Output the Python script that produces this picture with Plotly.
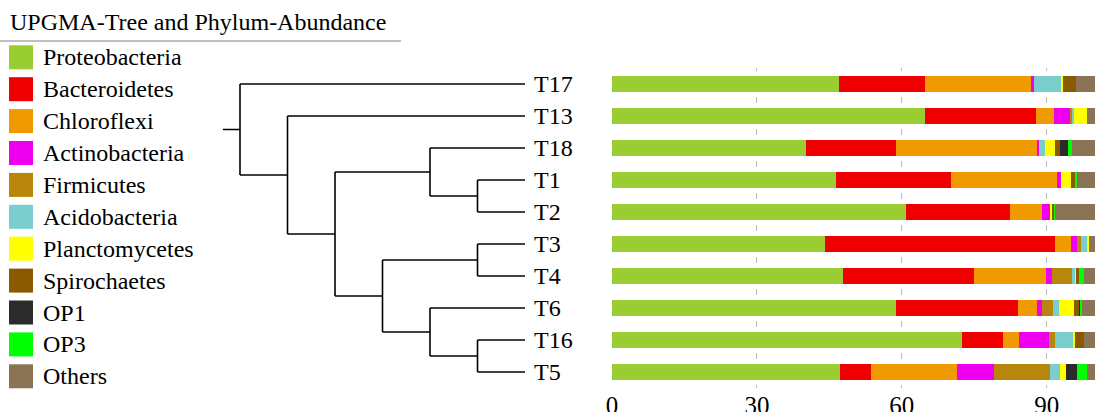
import plotly.graph_objects as go

# ---------------- data ----------------
samples = ["T17", "T13", "T18", "T1", "T2", "T3", "T4", "T6", "T16", "T5"]
phyla = ["Proteobacteria", "Bacteroidetes", "Chloroflexi", "Actinobacteria", "Firmicutes",
         "Acidobacteria", "Planctomycetes", "Spirochaetes", "OP1", "OP3", "Others"]
colors = ["#9ACD32", "#EE0000", "#EE9A00", "#EE00EE", "#B8860B",
          "#79CDCD", "#FFFF00", "#8B5A00", "#2B2B2B", "#00FF00", "#8B7355"]

# relative abundance (%) per phylum, in sample order above
Proteobacteria = [47.0, 64.8, 40.2, 46.4, 60.9, 44.0, 47.8, 58.9, 72.5, 47.2]
Bacteroidetes  = [17.9, 23.0, 18.7, 23.8, 21.5, 47.8, 27.1, 25.2, 8.4, 6.5]
Chloroflexi    = [21.8, 3.8, 29.2, 22.0, 6.7, 3.2, 15.0, 3.8, 3.4, 17.7]
Actinobacteria = [0.7, 3.4, 0.4, 0.8, 1.6, 1.3, 1.2, 1.2, 6.2, 7.7]
Firmicutes     = [0.0, 0.4, 0.0, 0.0, 0.0, 0.8, 4.1, 2.3, 1.3, 11.6]
Acidobacteria  = [5.7, 0.3, 1.1, 0.0, 0.0, 1.4, 0.7, 1.2, 3.7, 2.1]
Planctomycetes = [0.2, 2.6, 2.1, 2.0, 0.5, 0.3, 0.2, 3.0, 0.3, 1.1]
Spirochaetes   = [2.8, 0.0, 1.1, 0.9, 0.4, 0.0, 0.5, 1.1, 1.9, 0.0]
OP1            = [0.0, 0.0, 1.7, 0.0, 0.0, 0.0, 0.0, 0.4, 0.0, 2.4]
OP3            = [0.0, 0.0, 0.7, 0.3, 0.2, 0.0, 1.1, 0.3, 0.0, 2.1]
Others         = [3.9, 1.7, 4.8, 3.8, 8.2, 1.2, 2.3, 2.6, 2.3, 1.6]
abundance = [Proteobacteria, Bacteroidetes, Chloroflexi, Actinobacteria, Firmicutes,
             Acidobacteria, Planctomycetes, Spirochaetes, OP1, OP3, Others]

# UPGMA tree topology (nested pairs)
tree = ("T17", ("T13", (("T18", ("T1", "T2")), (("T3", "T4"), ("T6", ("T16", "T5"))))))

x_ticks = [0, 30, 60, 90]
title_text = "UPGMA-Tree and Phylum-Abundance"

FONT = "Liberation Serif, Times New Roman, Times, serif"
W, H = 1095, 412

fig = go.Figure()

# ---------------- bars ----------------
rows = list(range(len(samples)))
for name, col, vals in zip(phyla, colors, abundance):
    fig.add_trace(go.Bar(
        y=rows, x=vals, orientation="h", name=name,
        marker=dict(color=col, line=dict(width=0)),
        width=0.5, xaxis="x2", yaxis="y", showlegend=False,
        hovertemplate=name + ": %{x}<extra></extra>",
    ))

# ---------------- tree ----------------
row_of = {s: i for i, s in enumerate(samples)}
tx, ty = [], []


def layout_node(node):
    """returns (height, y) and records line segments"""
    if isinstance(node, str):
        return 0, row_of[node]
    info = [layout_node(c) for c in node]
    h = 1 + max(ch for ch, _ in info)
    ys = [cy for _, cy in info]
    tx.extend([-h, -h, None])
    ty.extend([min(ys), max(ys), None])
    for ch, cy in info:
        tx.extend([-h, -ch, None])
        ty.extend([cy, cy, None])
    return h, sum(ys) / len(ys)


root_h, root_y = layout_node(tree)
tx.extend([-root_h, -root_h - 0.36, None])
ty.extend([root_y, root_y, None])

fig.add_trace(go.Scatter(x=tx, y=ty, mode="lines", xaxis="x", yaxis="y",
                         line=dict(color="black", width=1.6), showlegend=False,
                         hoverinfo="skip"))

for s in samples:
    fig.add_annotation(x=0, y=row_of[s], xref="x", yref="y", text=s,
                       showarrow=False, xanchor="left", yanchor="middle", xshift=7,
                       font=dict(family=FONT, size=24, color="black"))

# ---------------- custom legend ----------------
leg_y0, leg_dy = 57.3, 31.9
leg_y = [leg_y0 + i * leg_dy for i in range(len(phyla))]
fig.add_trace(go.Scatter(x=[21] * len(phyla), y=leg_y, mode="markers",
                         xaxis="x3", yaxis="y3",
                         marker=dict(symbol="square", size=24, color=colors, line=dict(width=0)),
                         showlegend=False, hoverinfo="skip"))
for name, yy in zip(phyla, leg_y):
    fig.add_annotation(x=41, y=yy, xref="x3", yref="y3", text=name, showarrow=False,
                       xanchor="left", yanchor="middle",
                       font=dict(family=FONT, size=24, color="black"))

fig.add_annotation(x=8, y=22, xref="x3", yref="y3", text=title_text, showarrow=False,
                   xanchor="left", yanchor="middle",
                   font=dict(family=FONT, size=24, color="black"))
fig.add_shape(type="line", xref="x3", yref="y3", x0=0, x1=401, y0=41, y1=41,
              line=dict(color="#AAAAAA", width=1.5))

# ---------------- layout ----------------
top_px, bot_px = 68, 388
y_dom = [(H - bot_px) / H, (H - top_px) / H]
bar_x0 = 612

px_per_unit = 47.5
leaf_px = 525
tree_dom = [0, 0.55]
span = tree_dom[1] * W / px_per_unit
r0 = -leaf_px / px_per_unit

fig.update_layout(
    width=W, height=H,
    margin=dict(l=0, r=0, t=0, b=0),
    paper_bgcolor="white", plot_bgcolor="rgba(0,0,0,0)",
    barmode="stack", bargap=0,
    font=dict(family=FONT, color="black"),
    xaxis=dict(domain=tree_dom, range=[r0, r0 + span], visible=False, fixedrange=True),
    yaxis=dict(domain=y_dom, range=[len(samples) - 0.5, -0.5], visible=False, fixedrange=True),
    xaxis2=dict(domain=[bar_x0 / W, 1], range=[0, 100], anchor="y",
                tickvals=x_ticks, ticktext=[str(v) for v in x_ticks],
                tickfont=dict(family=FONT, size=25, color="black"),
                showgrid=True, gridcolor="#BDBDBD", gridwidth=1,
                griddash="3px,26px,3px,0px",
                zeroline=False, showline=False, ticks="", automargin=False,
                fixedrange=True),
    xaxis3=dict(domain=[0, 438 / W], range=[0, 438], visible=False, fixedrange=True),
    yaxis3=dict(domain=[0, 1], range=[H, 0], visible=False, fixedrange=True, anchor="x3"),
)

fig.write_html("out.html",
               config={"displayModeBar": False},
               post_script="document.body.style.margin='0';document.body.style.overflow='hidden';")
